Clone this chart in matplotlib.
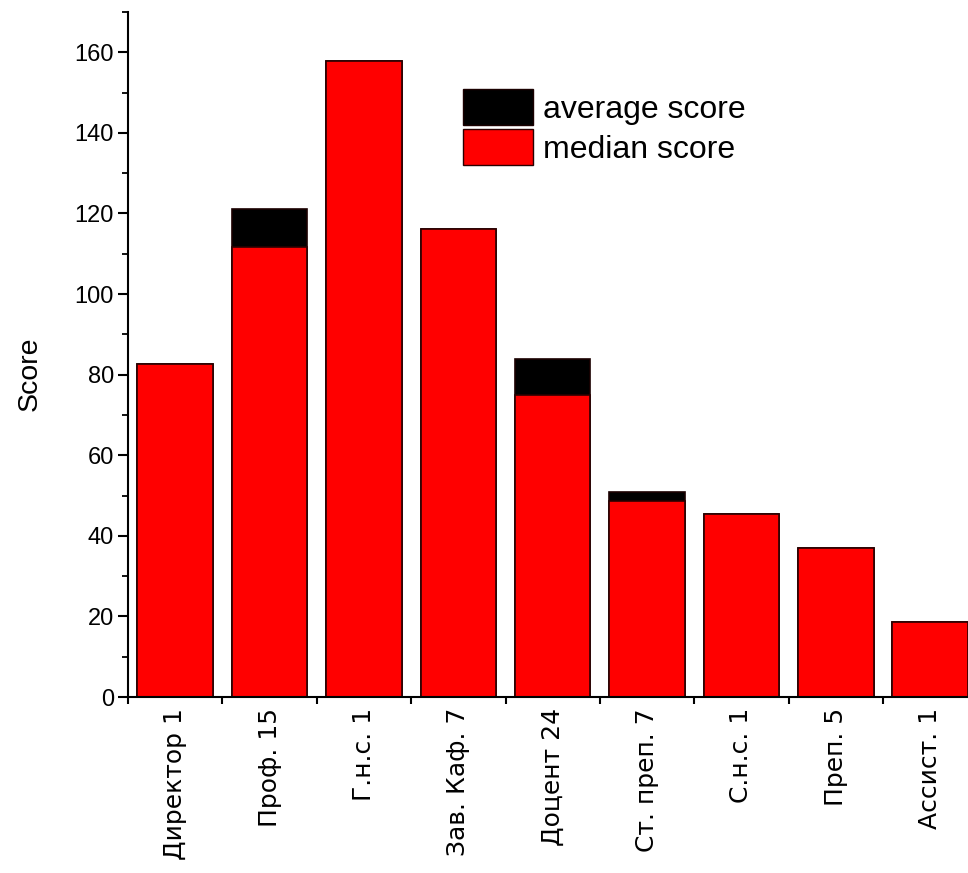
import matplotlib
matplotlib.use("Agg")
import matplotlib.pyplot as plt
from matplotlib.patches import Patch

positions = ["Директор 1", "Проф. 15", "Г.н.с. 1", "Зав. Каф. 7", "Доцент 24",
             "Ст. преп. 7", "С.н.с. 1", "Преп. 5", "Ассист. 1"]
average_score = [82.6, 121.2, 157.8, 116.1, 83.9, 50.9, 45.4, 37.0, 18.6]
median_score = [82.6, 111.7, 157.8, 116.1, 74.9, 48.6, 45.4, 37.0, 18.6]

fig = plt.figure(figsize=(9.68, 8.73), dpi=100)
ax = fig.add_axes([0.1322, 0.2016, 0.8678, 0.7847])

x = list(range(len(positions)))
ax.bar(x, average_score, width=0.8, color="black", edgecolor="#1a0000", linewidth=1.2)
ax.bar(x, median_score, width=0.8, color="#ff0000", edgecolor="#2a0000", linewidth=1.2)

ax.set_xlim(-0.5, 8.4)
ax.set_ylim(0, 170)

for side in ["top", "right"]:
    ax.spines[side].set_visible(False)
ax.spines["left"].set_linewidth(1.5)
ax.spines["bottom"].set_linewidth(1.5)

ax.set_yticks(range(0, 161, 20))
ax.set_yticks(range(10, 171, 20), minor=True)
ax.tick_params(axis="y", which="major", length=7, width=1.5, labelsize=17, pad=3)
ax.tick_params(axis="y", which="minor", length=4.5, width=1.3)
for lab in ax.get_yticklabels():
    lab.set_family("Liberation Sans")

# boundary ticks on x, labels at bar centres
ax.set_xticks([i - 0.5 for i in range(len(positions))])
ax.set_xticklabels([])
ax.set_xticks(x, minor=True)
ax.set_xticklabels(positions, minor=True, rotation=90, fontsize=18, family="DejaVu Sans")
ax.tick_params(axis="x", which="major", length=5, width=1.5)
ax.tick_params(axis="x", which="minor", length=0, pad=8)

ax.set_ylabel("Score", fontsize=20.5, family="Liberation Sans", va="center")
ax.yaxis.set_label_coords(-0.117, 0.472)

handles = [Patch(facecolor="black", edgecolor="#1a0000"),
           Patch(facecolor="#ff0000", edgecolor="#2a0000")]
ax.legend(handles, ["average score", "median score"], loc="upper left",
          bbox_to_anchor=(463 / 968, 1 - 89 / 873), bbox_transform=fig.transFigure,
          frameon=False, prop={"family": "Liberation Sans", "size": 23},
          handlelength=2.2, handleheight=1.36, handletextpad=0.3, labelspacing=0.13,
          borderpad=0, borderaxespad=0)

fig.savefig("out.png", dpi=100)
